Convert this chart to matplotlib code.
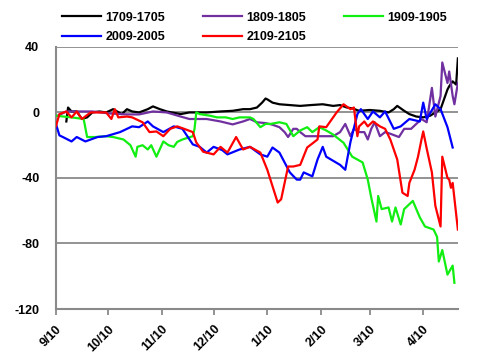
import numpy as np
import matplotlib
matplotlib.use("Agg")
import matplotlib.pyplot as plt

# spread values; days counted from 2016-09-10
START = np.datetime64("2016-09-10")

days_1709 = [6, 7, 9, 12, 15, 18, 21, 25, 29, 33, 38, 41, 44, 48, 53, 56, 60, 64, 72, 77,
             87, 95, 102, 108, 112, 116, 119, 121, 122, 125, 129, 135, 141, 147, 154, 160,
             164, 168, 171, 175, 181, 187, 192, 195, 197, 201, 204, 208, 212, 216, 219,
             222, 224, 226, 227, 229, 231, 232]
vals_1709 = [-5.5, 3, 0.6, 0.6, -4, -3, 0, 0.6, 0, 2, -1, 2, 0.6, 0, 2, 3.7, 2, 0.6, -1, 0,
             0, 0.6, 1, 2, 2, 3, 6, 8.5, 8, 6, 5, 4.5, 4, 4.5, 5, 4,
             4.5, 3, 2.5, 1, 1.5, 1, 0, 2, 4, 1, -1, -2.5, -3, -2, 0,
             2, 8, 14, 16, 19, 17, 33]

days_1809 = [1, 6, 14, 21, 31, 41, 48, 56, 64, 72, 77, 87, 95, 102, 108, 112, 116, 121,
             125, 129, 132, 134, 137, 139, 141, 144, 147, 152, 160, 164, 167, 170, 172,
             175, 178, 180, 182, 184, 187, 190, 193, 198, 201, 205, 209, 211, 214, 217,
             219, 222, 223, 226, 227, 229, 230, 232]
vals_1809 = [-2, 0.6, 0.6, 0.6, -0.6, -1.2, -1.2, 0.6, 0, -2.5, -4, -4, -5.5, -7.3, -5.5,
             -4, -6, -6.5, -7.5, -9, -12, -15, -10, -10, -12, -14.5, -14.5, -14.5, -14.5,
             -12, -7, -14.5, -10, -12, -12, -16.5, -10, -6, -14.5, -12, -13, -15, -10,
             -10, -6, -4, -6, 15, -2.5, 10, 30.5, 18, 25, 10, 5, 18]

days_1909 = [0, 9, 16, 18, 23, 29, 33, 39, 43, 46, 47, 50, 53, 55, 58, 62, 65, 68, 70, 73,
             79, 80, 81, 83, 89, 93, 98, 102, 106, 112, 114, 118, 121, 124, 129, 133, 137,
             141, 145, 148, 152, 156, 160, 166, 171, 177, 180, 182, 185, 186, 188, 192,
             194, 196, 199, 201, 206, 210, 213, 218, 220, 221, 223, 226, 229, 230]
vals_1909 = [-2, -3, -4, -15, -15, -14.5, -15, -16.5, -20, -27, -21, -20, -22.6, -20, -27,
             -17.7, -20, -21, -18, -16.5, -14.5, -10, 0, -1, -2, -3, -3, -4, -3, -3, -4,
             -9, -7, -7, -6, -7, -14.5, -11, -9, -12, -9, -11, -13.5, -18.5, -27, -30.5,
             -41, -52, -66.6, -51, -59, -58, -66.6, -58, -68.4, -59, -54, -64, -69.6,
             -71.5, -76, -91, -84, -99, -93.5, -104]

days_2009 = [0, 2, 4, 9, 12, 17, 24, 29, 37, 43, 44, 48, 53, 56, 62, 68, 73, 79, 83, 87,
             91, 96, 99, 106, 112, 118, 122, 125, 129, 135, 139, 141, 143, 148, 151, 154,
             156, 164, 167, 170, 174, 176, 180, 183, 187, 190, 195, 199, 204, 210, 212,
             214, 219, 222, 226, 229]
vals_2009 = [-7, -14, -15, -17.7, -15, -17.7, -15, -14.5, -12, -9, -8.5, -9, -5.5, -8.5,
             -12, -8.5, -10, -19.5, -21, -24.5, -21, -23, -25.6, -22.6, -21, -25.6, -27,
             -21.4, -24.5, -36.6, -41, -41, -36.6, -39, -28.7, -21, -27, -32, -35, -18,
             -1, 2, -4, 0.6, -3, 0.6, -10, -8.5, -4, -5.5, 6, -4, 5, 2, -9, -21.4]

days_2109 = [0, 2, 6, 9, 12, 15, 20, 29, 32, 34, 36, 41, 44, 50, 54, 58, 62, 66, 70, 74,
             79, 81, 85, 91, 95, 99, 104, 108, 112, 118, 122, 125, 128, 130, 132, 134, 137,
             141, 145, 151, 152, 156, 162, 166, 170, 172, 174, 175, 178, 180, 183, 187,
             190, 193, 197, 200, 203, 204, 207, 209, 211, 212, 214, 217, 219, 222, 223,
             226, 227, 228, 229, 232]
vals_2109 = [-8.5, -1, 0.6, -3, 0.6, -4, 0, 0, -4, 2, -3, -2.5, -3, -6, -12, -11.6, -14.5,
             -10, -8.5, -10, -12, -18.3, -24, -25.6, -21, -24.5, -15, -22.6, -21, -24.5,
             -35, -45, -55, -53, -43, -33, -33, -32, -21.4, -16.5, -8.5, -9, 0, 5, 2, 3,
             -14.5, -8.5, -5.5, -8.5, -5.5, -8.5, -10, -16.5, -28.7, -49, -51, -43, -35,
             -27, -16.5, -11.6, -22, -36.6, -57, -69.6, -27, -40, -41, -46, -43, -71.5]

series = [
    ("1709-1705", days_1709, vals_1709, "black"),
    ("1809-1805", days_1809, vals_1809, "#7030A0"),
    ("1909-1905", days_1909, vals_1909, "#11EE11"),
    ("2009-2005", days_2009, vals_2009, "#0000FF"),
    ("2109-2105", days_2109, vals_2109, "#FF0000"),
]

tick_dates = ["2016-09-10", "2016-10-10", "2016-11-10", "2016-12-10",
              "2017-01-10", "2017-02-10", "2017-03-10", "2017-04-10"]
tick_labels = ["9/10", "10/10", "11/10", "12/10", "1/10", "2/10", "3/10", "4/10"]
y_ticks = [-120, -80, -40, 0, 40]


def to_dt(a):
    return np.asarray(a, dtype="datetime64[D]").astype(object)


plt.rcParams["font.family"] = "Liberation Sans"
plt.rcParams["font.weight"] = "bold"

fig = plt.figure(figsize=(4.95, 3.61), dpi=100)
ax = fig.add_axes([0.113, 0.144, 0.812, 0.726])

grid_c = "#8A8A8A"
for y in y_ticks[1:]:
    ax.axhline(y, color=grid_c, lw=1.3, zorder=1)

lines = {}
for name, d, v, col in series:
    x = START + np.array(d).astype("timedelta64[D]")
    lines[name], = ax.plot(to_dt(x), v, color=col, lw=1.6, label=name, zorder=3)

ax.set_xlim(to_dt("2016-09-10"), to_dt("2017-04-30"))
ax.set_ylim(-120, 40)
ax.set_yticks(y_ticks)
ax.set_yticklabels([str(t) for t in y_ticks], fontsize=9, fontweight="bold")
ax.tick_params(axis="y", length=0, pad=12)

ax.set_xticks([to_dt(t) for t in tick_dates])
ax.set_xticklabels(tick_labels, fontsize=9, fontweight="bold", rotation=45,
                   ha="right", rotation_mode="anchor")
ax.tick_params(axis="x", length=4, width=1.3, color=grid_c, direction="out", pad=6)

for s in ["top", "right"]:
    ax.spines[s].set_visible(False)
for s in ["left", "bottom"]:
    ax.spines[s].set_color(grid_c)
    ax.spines[s].set_linewidth(1.5)

order = ["1709-1705", "2009-2005", "1809-1805", "2109-2105", "1909-1905"]
fig.legend([lines[k] for k in order], order, ncol=3, frameon=False,
           loc="upper left", bbox_to_anchor=(0.125, 0.968), borderpad=0,
           borderaxespad=0, handlelength=3.1, handletextpad=0.4,
           columnspacing=3.0, labelspacing=0.62,
           prop={"family": "Liberation Sans", "weight": "bold", "size": 9})

fig.savefig("out.png", dpi=100)
